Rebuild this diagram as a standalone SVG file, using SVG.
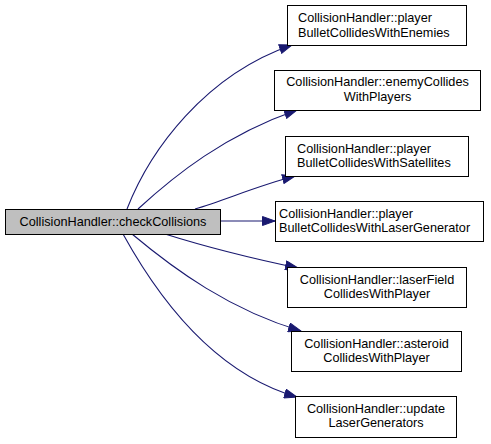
<svg xmlns="http://www.w3.org/2000/svg" width="491" height="444" viewBox="0 0 491 444">
<defs>
<marker id="ah" markerWidth="14" markerHeight="10" refX="13" refY="5" orient="auto" markerUnits="userSpaceOnUse">
<path d="M0.5,0.5 L13,5 L0.5,9.5 Z" fill="#191970" stroke="#191970" stroke-width="1"/>
</marker>
</defs>
<style>
.box{fill:#ffffff;stroke:#000000;stroke-width:1}
.main{fill:#bfbfbf;stroke:#000000;stroke-width:1}
text{font-family:"Liberation Sans",Arial,sans-serif;font-size:12.7px;fill:#000000}
.c{text-anchor:middle}
.e{fill:none;stroke:#191970;stroke-width:1.1;marker-end:url(#ah)}
</style>
<rect width="491" height="444" fill="#ffffff"/>
<g id="edges">
<path class="e" d="M127,209 C150,150 205,75 292,45"/>
<path class="e" d="M138,209 C175,175 225,135 297,110"/>
<path class="e" d="M195,209 C225,200 260,185 295,176"/>
<path class="e" d="M220,221 L275,221"/>
<path class="e" d="M165,234 C200,245 250,258 298,268"/>
<path class="e" d="M132,234 C175,270 230,310 301,331"/>
<path class="e" d="M123,234 C165,310 220,375 297,397"/>
</g>
<g id="n0"><rect class="main" x="5.5" y="209.5" width="215" height="25"/><text class="c" x="113" y="226">CollisionHandler::checkCollisions</text></g>
<g id="n1"><rect class="box" x="287.5" y="5.5" width="179" height="40"/><text x="298" y="22">CollisionHandler::player</text><text x="298" y="37">BulletCollidesWithEnemies</text></g>
<g id="n2"><rect class="box" x="274.5" y="70.5" width="206" height="40"/><text class="c" x="377.5" y="86">CollisionHandler::enemyCollides</text><text class="c" x="377.5" y="101">WithPlayers</text></g>
<g id="n3"><rect class="box" x="285.5" y="136.5" width="183" height="40"/><text x="297" y="153">CollisionHandler::player</text><text x="297" y="167">BulletCollidesWithSatellites</text></g>
<g id="n4"><rect class="box" x="275.5" y="201.5" width="208" height="40"/><text x="279" y="218">CollisionHandler::player</text><text x="279" y="232">BulletCollidesWithLaserGenerator</text></g>
<g id="n5"><rect class="box" x="287.5" y="267.5" width="179" height="40"/><text class="c" x="377" y="284">CollisionHandler::laserField</text><text class="c" x="377" y="298">CollidesWithPlayer</text></g>
<g id="n6"><rect class="box" x="291.5" y="331.5" width="170" height="40"/><text class="c" x="376.5" y="348">CollisionHandler::asteroid</text><text class="c" x="376.5" y="362">CollidesWithPlayer</text></g>
<g id="n7"><rect class="box" x="295.5" y="396.5" width="161" height="41"/><text class="c" x="376" y="413">CollisionHandler::update</text><text class="c" x="376" y="427">LaserGenerators</text></g>
</svg>
